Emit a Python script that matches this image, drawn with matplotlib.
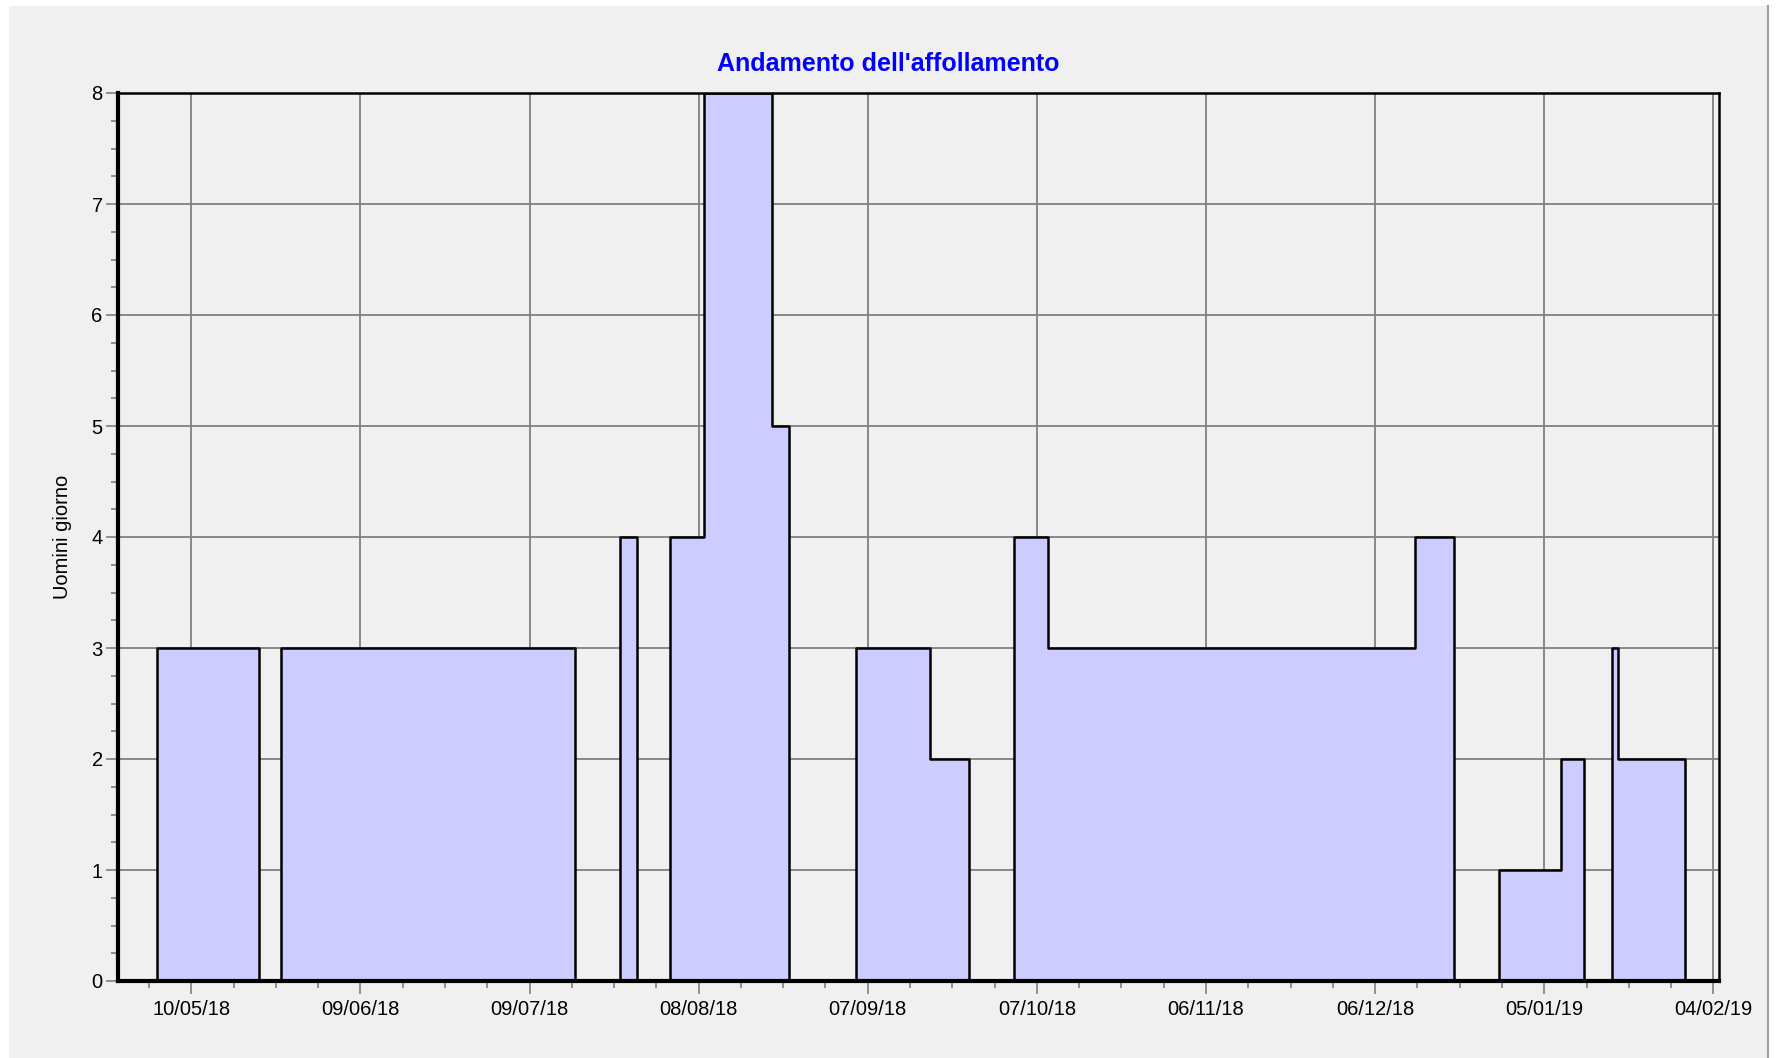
import matplotlib
matplotlib.use("Agg")
import matplotlib.pyplot as plt
import matplotlib.dates as mdates
from matplotlib.patches import Rectangle
from matplotlib.lines import Line2D
import pandas as pd

plt.rcParams['font.family'] = ['Liberation Sans', 'DejaVu Sans']

# crowding level (workers per day) as a step series: each value holds until the next date
change_dates = ["2018-04-27", "2018-05-04", "2018-05-22", "2018-05-26", "2018-07-17",
                "2018-07-25", "2018-07-28", "2018-08-03", "2018-08-09", "2018-08-21",
                "2018-08-24", "2018-09-05", "2018-09-18", "2018-09-25", "2018-10-03",
                "2018-10-09", "2018-12-13", "2018-12-20", "2018-12-28", "2019-01-08",
                "2019-01-12", "2019-01-17", "2019-01-18", "2019-01-30"]
workers = [0, 3, 0, 3, 0, 4, 0, 4, 8, 5, 0, 3, 2, 0, 4, 3, 4, 0, 1, 2, 0, 3, 2, 0]
end_date = "2019-02-05"

first_tick = "2018-05-10"
n_ticks = 10

title = "Andamento dell'affollamento"
ylabel = "Uomini giorno"

x = pd.to_datetime(change_dates + [end_date])
y = workers + [workers[-1]]

fig = plt.figure(figsize=(17.77, 10.58), dpi=100, facecolor="white")
# light grey panel with a single grey edge on the right
fig.patches.append(Rectangle((9 / 1777, 0), 1759 / 1777, 1 - 6 / 1058,
                             transform=fig.transFigure, facecolor="#f0f0f0",
                             linewidth=0, zorder=-10))
fig.lines.append(Line2D([1768 / 1777, 1768 / 1777], [0, 1 - 6 / 1058],
                        transform=fig.transFigure, color="#a0a0a0", linewidth=1.5))

ax = fig.add_axes([118 / 1777, 1 - 981 / 1058, (1719 - 118) / 1777, (981 - 93) / 1058])
ax.set_facecolor("#f0f0f0")

ax.fill_between(x, y, step="post", color="#ccccff", linewidth=0, zorder=2)
ax.step(x, y, where="post", color="black", linewidth=1.8, zorder=3)

ax.set_xlim(x[0], x[-1])
ax.set_ylim(0, 8)

major = pd.date_range(first_tick, periods=n_ticks, freq="30D")
minor = pd.date_range(pd.Timestamp(first_tick) - pd.Timedelta(hours=180), x[-1], freq="180h")
ax.set_xticks(major)
ax.set_xticks(minor, minor=True)
ax.xaxis.set_major_formatter(mdates.DateFormatter("%d/%m/%y"))
ax.set_yticks(range(0, 9))
ax.set_yticks([v / 4 for v in range(0, 33)], minor=True)

ax.grid(True, which="major", color="#808080", linewidth=1.3)
ax.set_axisbelow(True)

ax.tick_params(which="major", length=9, width=1.2, color="#808080",
               labelsize=14.5, labelcolor="black", pad=5)
ax.tick_params(which="minor", length=5, width=1.2, color="#808080")
ax.tick_params(axis="y", pad=2)

for side in ["top", "right"]:
    ax.spines[side].set_linewidth(1.8)
ax.spines["left"].set_linewidth(3)
ax.spines["bottom"].set_linewidth(3)
for s in ax.spines.values():
    s.set_zorder(4)

ax.set_ylabel(ylabel, fontsize=14.5, labelpad=14)
fig.text(0.5, 1 - 64 / 1058, title, ha="center", va="center",
         fontsize=18, fontweight="bold", color="#0000ff")

fig.savefig("out.png", dpi=100, facecolor=fig.get_facecolor())
